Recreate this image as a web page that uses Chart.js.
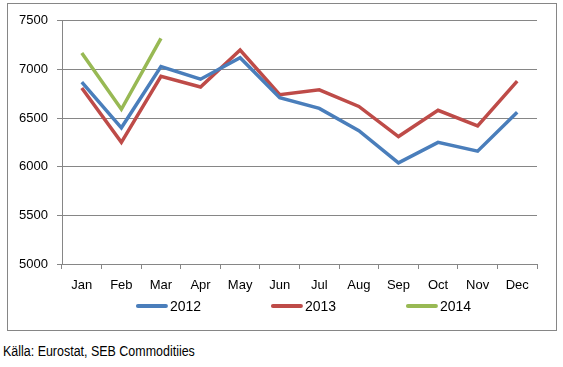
<!DOCTYPE html>
<html><head><meta charset="utf-8">
<script src="https://cdn.jsdelivr.net/npm/chart.js@4.4.0/dist/chart.umd.min.js"></script>
<style>
html,body{margin:0;padding:0;background:#fff;width:563px;height:367px;overflow:hidden;}
#box{position:absolute;left:7px;top:3px;width:550px;height:328px;box-sizing:border-box;border:1px solid #868686;}
#src{position:absolute;left:3px;top:343px;font-family:"Liberation Sans Narrow","Arial Narrow","Liberation Sans",sans-serif;font-size:14px;color:#000;white-space:nowrap;transform-origin:0 0;transform:scaleX(0.89);}
</style></head>
<body>
<div id="box"><canvas id="c"></canvas></div>
<div id="src">Källa: Eurostat, SEB Commoditiies</div>
<script>
const categories = ["Jan","Feb","Mar","Apr","May","Jun","Jul","Aug","Sep","Oct","Nov","Dec"];
const series2012 = [6870,6400,7030,6900,7120,6710,6600,6370,6040,6250,6160,6560];
const series2013 = [6810,6250,6930,6820,7200,6740,6790,6620,6310,6580,6420,6880];
const series2014 = [7170,6590,7320];
const seriesLabels = ["2012","2013","2014"];
const yTicks = [5000,5500,6000,6500,7000,7500];

const colors = ["#4A7EBB","#BE4B48","#98B954"];
const FONT = '"Liberation Sans", Arial, sans-serif';

const legendPlugin = {
  id:'customLegend',
  afterDraw(chart){
    const ctx = chart.ctx;
    const ca = chart.chartArea;
    const mid = (ca.left+ca.right)/2 + 4;
    const y = ca.bottom + 42;
    ctx.save();
    ctx.font = '14px ' + FONT;
    ctx.textBaseline = 'middle';
    ctx.fillStyle = '#000';
    chart.data.datasets.forEach((ds,i)=>{
      const cx = mid + (i-1)*135;
      const tw = ctx.measureText(ds.label).width;
      const lw = 32, gap = 2;
      const total = lw + gap + tw;
      const x0 = cx - total/2;
      ctx.strokeStyle = ds.borderColor;
      ctx.lineWidth = 4;
      ctx.lineCap = 'round';
      ctx.beginPath();
      ctx.moveTo(x0+2, y);
      ctx.lineTo(x0+lw-2, y);
      ctx.stroke();
      ctx.fillText(ds.label, x0+lw+gap, y+1);
    });
    ctx.restore();
  }
};

new Chart(document.getElementById('c'), {
  type:'line',
  data:{
    labels:categories,
    datasets:[
      {label:seriesLabels[0], data:series2012, borderColor:colors[0], backgroundColor:colors[0], borderWidth:3.5, pointRadius:0, tension:0, fill:false},
      {label:seriesLabels[1], data:series2013, borderColor:colors[1], backgroundColor:colors[1], borderWidth:3.5, pointRadius:0, tension:0, fill:false},
      {label:seriesLabels[2], data:series2014, borderColor:colors[2], backgroundColor:colors[2], borderWidth:3.5, pointRadius:0, tension:0, fill:false}
    ]
  },
  options:{
    responsive:true, maintainAspectRatio:false, animation:false,
    layout:{padding:{left:0,right:19,top:16,bottom:0}},
    plugins:{legend:{display:false}, tooltip:{enabled:false}},
    scales:{
      x:{
        offset:true,
        grid:{display:true, drawOnChartArea:false, drawTicks:true, tickLength:5, color:'#868686', offset:true},
        border:{display:true, color:'#868686'},
        ticks:{color:'#000', font:{family:FONT,size:13}, padding:9, maxRotation:0, autoSkip:false},
        afterFit(s){ s.height = 66; }
      },
      y:{
        min:5000, max:7500,
        afterBuildTicks(s){ s.ticks = yTicks.map(v=>({value:v})); },
        grid:{color:'#868686', drawTicks:true, tickLength:5},
        border:{display:true, color:'#868686'},
        ticks:{color:'#000', font:{family:FONT,size:13}, padding:9, callback:(v)=>String(v)},
        afterFit(s){ s.width = 54; }
      }
    }
  },
  plugins:[legendPlugin]
});
</script>
</body></html>
